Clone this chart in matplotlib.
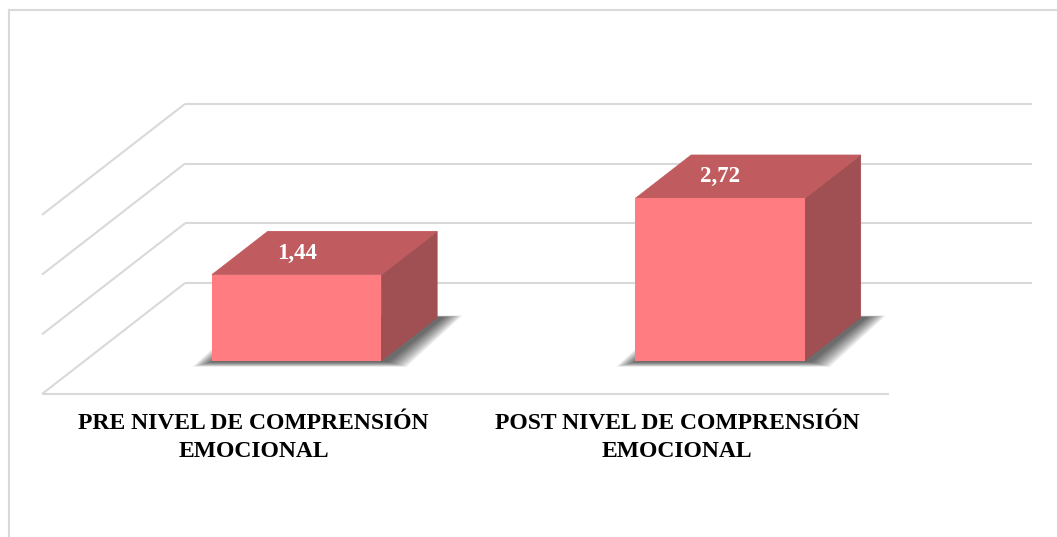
import numpy as np
import matplotlib.pyplot as plt
from matplotlib.patches import Polygon
from matplotlib.lines import Line2D

categories = ['PRE NIVEL DE COMPRENSIÓN\nEMOCIONAL', 'POST NIVEL DE COMPRENSIÓN\nEMOCIONAL']
values = [1.44, 2.72]
labels = ['1,44', '2,72']
ticks = [0, 1, 2, 3]

W, H = 1057, 537
fig = plt.figure(figsize=(W / 100, H / 100), dpi=100)
ax = fig.add_axes([0, 0, 1, 1])

# pixel layout of the fake 3d box: front floor edge, one category and one unit
x0_px, floor_px, cat_px, unit_px = 42, 394, 423.5, 59.7
ax.set_xlim(-0.5 - x0_px / cat_px, -0.5 + (W - x0_px) / cat_px)
ax.set_ylim((floor_px - H) / unit_px, floor_px / unit_px)
ax.axis('off')

# depth vector (full depth of the box) in data units
Dx, Dy = 143 / cat_px, 111 / unit_px
d0, d1 = 0.30, 0.69     # bar depth range
hw = 0.2                # half bar width

grid = dict(color='#d9d9d9', lw=1.5, zorder=1, solid_capstyle='butt')
n = len(categories)
for t in ticks:
    ax.plot([-0.5 + Dx, n - 0.5 + Dx], [t + Dy, t + Dy], **grid)
    ax.plot([-0.5, -0.5 + Dx], [t, t + Dy], **grid)
ax.plot([-0.5, n - 0.5], [0, 0], **grid)

front_c = '#ff7c80'
top_c = '#c05b5f'
side_c = '#a04f52'

for i, v in enumerate(values):
    xl, xr = i - hw, i + hw
    fx = d0 * Dx
    bx = d1 * Dx
    fy = d0 * Dy
    by = d1 * Dy
    # soft shadow on the floor
    foot = np.array([[xl + fx, fy], [xr + fx, fy], [xr + bx, by], [xl + bx, by]])
    for k in range(10):
        ex = (22 - 2.0 * k) / cat_px
        ey = (6 - 0.5 * k) / unit_px
        pts = foot.copy()
        pts[[0, 3], 0] -= ex
        pts[[1, 2], 0] += ex
        pts[[0, 1], 1] -= ey
        pts[[2, 3], 1] += ey * 0.3
        pts[:, 0] += 3 / cat_px
        ax.add_patch(Polygon(pts, closed=True, fc='black', ec='none',
                             alpha=0.08, zorder=2))
    # faces
    ax.add_patch(Polygon([[xr + fx, fy], [xr + bx, by], [xr + bx, by + v], [xr + fx, fy + v]],
                         fc=side_c, ec=side_c, lw=0.6, zorder=4))
    ax.add_patch(Polygon([[xl + fx, fy + v], [xr + fx, fy + v], [xr + bx, by + v], [xl + bx, by + v]],
                         fc=top_c, ec=top_c, lw=0.6, zorder=4))
    ax.add_patch(Polygon([[xl + fx, fy], [xr + fx, fy], [xr + fx, fy + v], [xl + fx, fy + v]],
                         fc=front_c, ec='none', zorder=5))
    ax.annotate(labels[i], xy=(i + fx, fy + v), xytext=(0, 15.5), textcoords='offset points',
                ha='center', va='center', color='white', fontsize=16.5, fontweight='bold',
                family='Liberation Serif', zorder=6)
    ax.annotate(categories[i], xy=(i, 0), xytext=(0, -13.5), textcoords='offset points',
                ha='center', va='top', multialignment='center', color='black',
                fontsize=17, fontweight='bold', family='Liberation Serif', linespacing=1.45)

# chart area border
bc = '#d9d9d9'
fig.add_artist(Line2D([9 / W, 1], [1 - 10 / H, 1 - 10 / H], color=bc, lw=1.5))
fig.add_artist(Line2D([9 / W, 9 / W], [0, 1 - 10 / H], color=bc, lw=1.5))

fig.savefig('out.png', dpi=100)
